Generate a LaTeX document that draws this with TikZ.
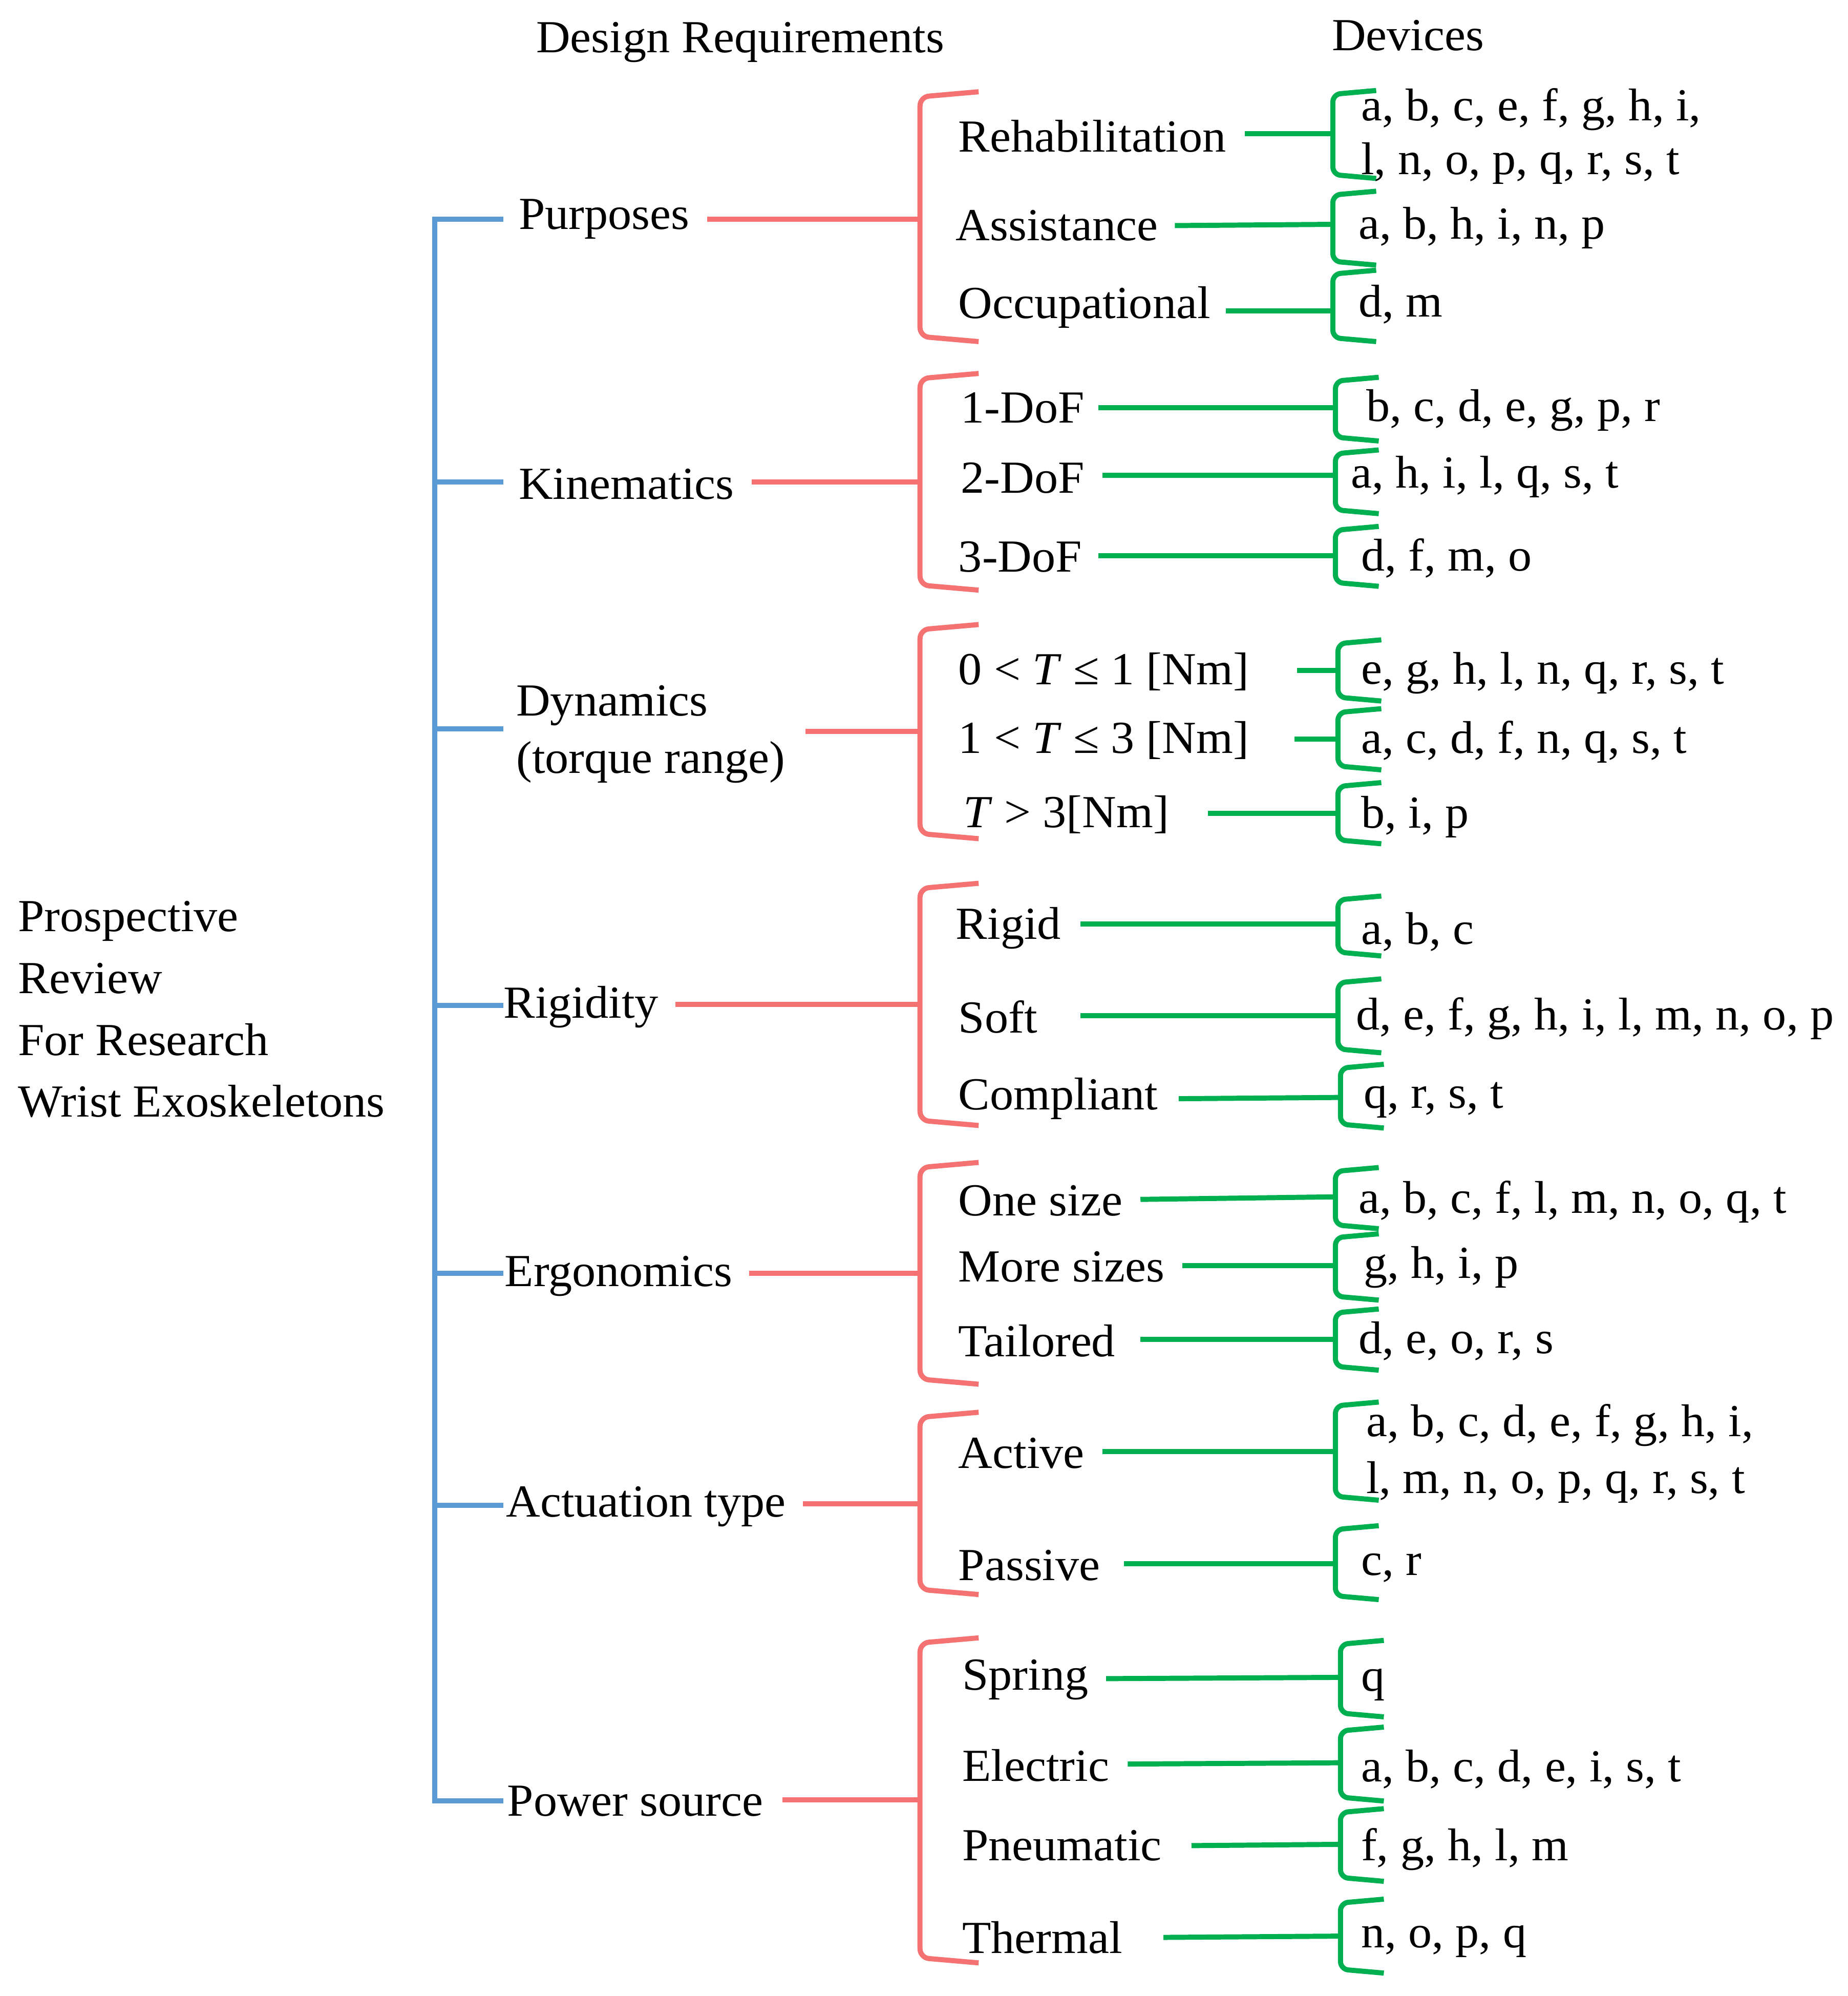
\documentclass[tikz,border=0pt]{standalone}
\usepackage{fontspec}
\setmainfont[FakeStretch=1.03]{Liberation Serif}
\definecolor{cblue}{HTML}{5B9BD5}
\definecolor{cpink}{HTML}{F47272}
\definecolor{cgreen}{HTML}{00B050}
\newcommand\pbr[2]{\draw[pk,rounded corners=7pt] (768,#1) -- (722,#1+4) -- (722,#2-4) -- (768,#2);}
\newcommand\gbr[3]{\draw[gr,rounded corners=6pt] (#3+34,#1) -- (#3,#1+3) -- (#3,#2-3) -- (#3+34,#2);}
\begin{document}
\begin{tikzpicture}[x=1pt,y=-1pt,
  t/.style={anchor=west,inner sep=0pt,font=\fontsize{36}{40}\selectfont},
  bl/.style={draw=cblue,line width=4pt},
  pk/.style={draw=cpink,line width=4pt},
  gr/.style={draw=cgreen,line width=4pt}]
\useasboundingbox (0,0) rectangle (1450,1566);
% headers
\node[t,anchor=center] (hdr1) at (581,33) {Design Requirements};
\node[t,anchor=center] (hdr2) at (1105,28) {Devices};
% root
\node[t,align=left,font=\fontsize{36}{48.5}\selectfont] (root) at (14,792) {Prospective\\Review\\For Research\\Wrist Exoskeletons};
% blue trunk
\draw[bl] (395,172) -- (341,172) -- (341,1413) -- (395,1413);
\foreach \y in {378,572,789,999,1181}{\draw[bl] (341,\y) -- (395,\y);}
% categories
\node[t] (c1) at (407,172) {Purposes};
\node[t] (c2) at (407,380) {Kinematics};
\node[t,align=left,font=\fontsize{36}{45}\selectfont] (c3) at (405,576) {Dynamics\\(torque range)};
\node[t] (c4) at (395,790) {Rigidity};
\node[t] (c5) at (396,1001) {Ergonomics};
\node[t] (c6) at (397,1182) {Actuation type};
\node[t] (c7) at (398,1413) {Power source};
\draw[pk] (555,172) -- (722,172);
\draw[pk] (590,378) -- (722,378);
\draw[pk] (632,574) -- (722,574);
\draw[pk] (530,788) -- (722,788);
\draw[pk] (588,999) -- (722,999);
\draw[pk] (630,1180) -- (722,1180);
\draw[pk] (614,1412) -- (722,1412);
\pbr{72}{268}\pbr{293}{463}\pbr{490}{658}\pbr{693}{883}\pbr{912}{1086}\pbr{1108}{1251}\pbr{1285}{1540}
% Purposes
\node[t] (p1) at (752,107) {Rehabilitation};
\draw[gr] (977,105) -- (1046,105); \gbr{71}{140}{1046}
\node[t] (d1) at (1068,86) {a, b, c, e, f, g, h, i,};
\node[t] (d1b) at (1068,128) {l, n, o, p, q, r, s, t};
\node[t] (p2) at (750,177) {Assistance};
\draw[gr] (922,177) -- (1046,176); \gbr{150}{208}{1046}
\node[t] (d2) at (1066,179) {a, b, h, i, n, p};
\node[t] (p3) at (752,241) {Occupational};
\draw[gr] (962,244) -- (1046,244); \gbr{212}{268}{1046}
\node[t] (d3) at (1066,239) {d, m};
% Kinematics
\node[t] (k1) at (754,320) {1-DoF};
\draw[gr] (862,320) -- (1048,320); \gbr{296}{346}{1048}
\node[t] (dk1) at (1072,322) {b, c, d, e, g, p, r};
\node[t] (k2) at (754,375) {2-DoF};
\draw[gr] (865,373) -- (1048,373); \gbr{353}{403}{1048}
\node[t] (dk2) at (1060,374) {a, h, i, l, q, s, t};
\node[t] (k3) at (752,437) {3-DoF};
\draw[gr] (862,436) -- (1048,436); \gbr{413}{460}{1048}
\node[t] (dk3) at (1068,438) {d, f, m, o};
% Dynamics
\node[t] (y1) at (752,527) {0 < \textit{T} ≤ 1 [Nm]};
\draw[gr] (1018,526) -- (1050,526); \gbr{502}{550}{1050}
\node[t] (dy1) at (1068,528) {e, g, h, l, n, q, r, s, t};
\node[t] (y2) at (752,581) {1 < \textit{T} ≤ 3 [Nm]};
\draw[gr] (1016,580) -- (1050,580); \gbr{556}{604}{1050}
\node[t] (dy2) at (1068,582) {a, c, d, f, n, q, s, t};
\node[t] (y3) at (756,639) {\textit{T} > 3[Nm]};
\draw[gr] (948,638) -- (1050,638); \gbr{614}{662}{1050}
\node[t] (dy3) at (1068,641) {b, i, p};
% Rigidity
\node[t] (r1) at (750,728) {Rigid};
\draw[gr] (848,725) -- (1050,725); \gbr{703}{750}{1050}
\node[t] (dr1) at (1068,731) {a, b, c};
\node[t] (r2) at (752,798) {Soft};
\draw[gr] (848,797) -- (1050,797); \gbr{768}{826}{1050}
\node[t] (dr2) at (1064,799) {d, e, f, g, h, i, l, m, n, o, p};
\node[t] (r3) at (752,862) {Compliant};
\draw[gr] (925,862) -- (1052,861); \gbr{835}{885}{1052}
\node[t] (dr3) at (1070,863) {q, r, s, t};
% Ergonomics
\node[t] (e1) at (752,942) {One size};
\draw[gr] (895,941) -- (1048,939); \gbr{916}{964}{1048}
\node[t] (de1) at (1066,943) {a, b, c, f, l, m, n, o, q, t};
\node[t] (e2) at (752,994) {More sizes};
\draw[gr] (928,993) -- (1048,993); \gbr{968}{1020}{1048}
\node[t] (de2) at (1070,994) {g, h, i, p};
\node[t] (e3) at (752,1052) {Tailored};
\draw[gr] (895,1051) -- (1048,1051); \gbr{1027}{1075}{1048}
\node[t] (de3) at (1066,1052) {d, e, o, r, s};
% Actuation
\node[t] (a1) at (752,1140) {Active};
\draw[gr] (865,1139) -- (1048,1139); \gbr{1100}{1177}{1048}
\node[t] (da1) at (1072,1118) {a, b, c, d, e, f, g, h, i,};
\node[t] (da1b) at (1072,1163) {l, m, n, o, p, q, r, s, t};
\node[t] (a2) at (752,1228) {Passive};
\draw[gr] (882,1227) -- (1048,1227); \gbr{1197}{1255}{1048}
\node[t] (da2) at (1068,1230) {c, r};
% Power
\node[t] (w1) at (755,1318) {Spring};
\draw[gr] (868,1317) -- (1052,1316); \gbr{1287}{1347}{1052}
\node[t] (dw1) at (1068,1322) {q};
\node[t] (w2) at (755,1385) {Electric};
\draw[gr] (885,1384) -- (1052,1383); \gbr{1355}{1413}{1052}
\node[t] (dw2) at (1068,1388) {a, b, c, d, e, i, s, t};
\node[t] (w3) at (755,1448) {Pneumatic};
\draw[gr] (935,1448) -- (1052,1447); \gbr{1419}{1476}{1052}
\node[t] (dw3) at (1068,1451) {f, g, h, l, m};
\node[t] (w4) at (755,1520) {Thermal};
\draw[gr] (913,1520) -- (1052,1519); \gbr{1490}{1548}{1052}
\node[t] (dw4) at (1068,1523) {n, o, p, q};
\end{tikzpicture}
\end{document}
